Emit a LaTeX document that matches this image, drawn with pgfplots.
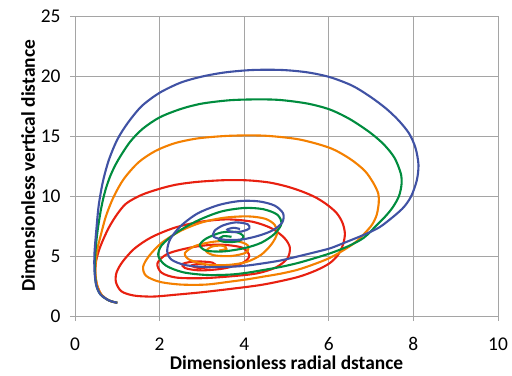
\documentclass[border=0pt]{standalone}
\usepackage{pgfplots}
\pgfplotsset{compat=1.18}
\usepackage{fontspec}
\setmainfont{Carlito}
\definecolor{cblue}{RGB}{64,82,164}
\definecolor{cgreen}{RGB}{0,140,62}
\definecolor{corange}{RGB}{244,128,0}
\definecolor{cred}{RGB}{232,32,16}
\definecolor{gridc}{RGB}{165,165,165}
\begin{document}
\begin{tikzpicture}
\begin{axis}[
  scale only axis, width=423bp, height=300bp,
  xmin=0, xmax=10, ymin=0, ymax=25,
  xtick={0,2,...,10}, ytick={0,5,...,25},
  grid=major,
  major grid style={draw=gridc, line width=0.9bp},
  axis line style={draw=gridc, line width=0.9bp},
  tick style={draw=gridc, line width=0.9bp},
  tick align=outside, major tick length=5bp,
  xtick pos=left, ytick pos=left,
  /pgf/number format/assume math mode=true,
  ticklabel style={font=\fontsize{19.5}{22}\selectfont},
  xticklabel style={anchor=base, yshift=-29bp},
  yticklabel style={xshift=-6bp},
  xlabel={Dimensionless radial dstance},
  ylabel={Dimensionless vertical distance},
  label style={font=\bfseries\fontsize{19.5}{22}\selectfont},
  xlabel style={at={(axis description cs:0.5,-0.177)}, anchor=base},
  ylabel style={at={(axis description cs:-0.0946,0.5)}, anchor=base},
  every axis plot/.append style={line width=2.1bp, smooth, no markers},
]
\coordinate (bl) at (rel axis cs:0,0);
\coordinate (tr) at (rel axis cs:1,1);
\addplot[cred] coordinates {(1.00,1.10)(0.80,1.30)(0.62,1.80)(0.52,2.60)(0.48,3.50)(0.50,4.60)(0.60,5.80)(0.79,7.30)(1.00,8.50)(1.22,9.40)(1.58,10.10)(2.00,10.60)(2.40,10.95)(2.90,11.18)(3.55,11.32)(4.10,11.30)(4.60,11.12)(5.00,10.80)(5.35,10.40)(5.68,9.90)(5.95,9.30)(6.18,8.60)(6.32,7.80)(6.38,6.90)(6.34,6.00)(6.22,5.10)(6.02,4.40)(5.70,3.80)(5.24,3.22)(4.45,2.62)(3.66,2.25)(3.00,1.98)(2.40,1.78)(1.85,1.62)(1.40,1.70)(1.10,2.05)(0.97,2.80)(0.98,3.60)(1.12,4.50)(1.40,5.60)(1.80,6.55)(2.35,7.35)(2.96,7.85)(3.60,8.05)(4.20,7.85)(4.65,7.30)(4.95,6.50)(5.08,5.70)(5.02,4.80)(4.75,4.05)(4.30,3.55)(3.66,3.30)(3.00,3.15)(2.40,3.20)(2.05,3.60)(1.95,4.40)(2.20,5.20)(2.80,5.75)(3.40,5.95)(3.95,5.70)(4.12,5.00)(3.95,4.40)(3.50,3.95)(2.95,3.80)(2.60,4.00)(2.55,4.35)(2.85,4.55)(3.25,4.45)(3.30,4.15)(2.95,4.00)(2.75,4.20)(2.95,4.35)(3.10,4.25)};
\addplot[corange] coordinates {(1.00,1.10)(0.80,1.30)(0.62,1.80)(0.52,2.60)(0.48,3.80)(0.52,5.40)(0.60,6.60)(0.73,8.30)(0.91,9.90)(1.15,11.40)(1.50,12.80)(1.90,13.75)(2.36,14.40)(2.90,14.80)(3.55,15.00)(4.10,15.05)(4.60,15.00)(5.32,14.70)(6.03,14.00)(6.50,13.10)(6.85,12.10)(7.05,11.10)(7.17,10.20)(7.18,9.40)(7.13,8.40)(7.02,7.60)(6.85,6.90)(6.65,6.20)(6.42,5.64)(6.03,4.85)(5.60,4.25)(5.24,3.83)(4.85,3.52)(4.45,3.28)(4.06,3.05)(3.66,2.86)(3.10,2.62)(2.50,2.62)(2.00,2.85)(1.68,3.35)(1.61,4.10)(1.75,5.00)(2.05,6.10)(2.50,7.10)(3.00,7.80)(3.55,8.20)(4.10,8.30)(4.50,8.10)(4.72,7.60)(4.78,6.90)(4.65,6.00)(4.40,5.10)(4.05,4.50)(3.60,4.25)(3.10,4.30)(2.70,4.70)(2.60,5.25)(2.85,5.85)(3.30,6.20)(3.80,6.25)(4.08,5.90)(4.05,5.30)(3.70,5.00)(3.30,5.05)(3.10,5.40)(3.25,5.80)(3.50,5.85)(3.58,5.60)(3.40,5.45)};
\addplot[cgreen] coordinates {(1.00,1.10)(0.80,1.30)(0.60,1.80)(0.50,2.60)(0.47,3.80)(0.48,5.20)(0.53,7.00)(0.62,9.00)(0.72,10.50)(0.85,11.80)(1.02,13.00)(1.30,14.50)(1.60,15.60)(2.00,16.55)(2.50,17.25)(3.00,17.70)(3.66,17.98)(4.30,18.05)(4.85,18.00)(5.50,17.70)(6.03,17.20)(6.50,16.40)(6.97,15.30)(7.30,14.30)(7.55,13.20)(7.70,11.90)(7.72,11.00)(7.66,10.00)(7.52,9.10)(7.35,8.35)(7.10,7.45)(6.82,6.50)(6.45,5.80)(6.03,5.22)(5.60,4.75)(5.24,4.39)(4.85,4.08)(4.45,3.83)(4.06,3.60)(3.66,3.45)(3.10,3.42)(2.55,3.65)(2.15,4.20)(1.97,5.00)(2.05,5.90)(2.40,6.95)(2.90,7.95)(3.45,8.70)(4.00,9.00)(4.45,8.90)(4.78,8.45)(4.88,7.70)(4.72,6.85)(4.40,6.10)(4.00,5.65)(3.50,5.38)(3.10,5.45)(2.95,5.90)(3.10,6.45)(3.45,6.95)(3.80,7.00)(3.98,6.65)(3.88,6.25)(3.58,6.15)(3.40,6.35)(3.50,6.65)(3.70,6.60)};
\addplot[cblue] coordinates {(1.00,1.10)(0.80,1.30)(0.60,1.80)(0.50,2.60)(0.46,3.80)(0.46,5.20)(0.50,7.00)(0.56,9.20)(0.66,11.20)(0.80,13.00)(1.00,14.70)(1.25,16.10)(1.58,17.50)(2.00,18.60)(2.50,19.45)(3.00,19.95)(3.55,20.30)(4.20,20.50)(4.90,20.50)(5.50,20.30)(6.03,19.90)(6.55,19.20)(6.97,18.30)(7.35,17.30)(7.65,16.30)(7.90,15.20)(8.05,14.00)(8.12,12.60)(8.08,11.30)(7.95,10.00)(7.78,9.10)(7.55,8.35)(7.20,7.40)(6.82,6.75)(6.40,6.15)(6.03,5.64)(5.60,5.25)(5.24,4.94)(4.85,4.62)(4.45,4.39)(4.06,4.20)(3.66,4.10)(3.10,4.08)(2.60,4.25)(2.28,4.70)(2.18,5.40)(2.25,6.40)(2.50,7.50)(2.90,8.55)(3.40,9.25)(3.90,9.58)(4.35,9.55)(4.72,9.20)(4.92,8.55)(4.90,7.80)(4.68,7.15)(4.35,6.70)(3.95,6.38)(3.55,6.35)(3.28,6.60)(3.30,7.10)(3.50,7.55)(3.80,7.80)(4.08,7.65)(4.12,7.30)(3.95,7.05)(3.70,7.00)(3.60,7.20)(3.75,7.35)(3.90,7.25)};
\end{axis}
\pgfresetboundingbox
\path ([xshift=-75bp,yshift=-60bp]bl) rectangle ([xshift=14bp,yshift=16bp]tr);
\end{tikzpicture}
\end{document}
